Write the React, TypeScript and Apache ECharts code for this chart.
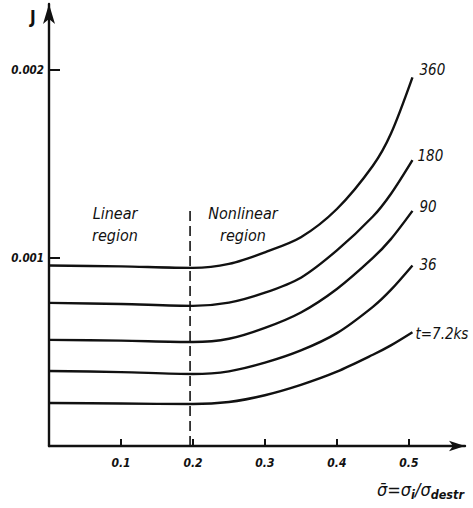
import React, { useEffect, useRef } from "react";
import * as echarts from "echarts";

const FONT = "'DejaVu Sans Condensed', 'DejaVu Sans', sans-serif";

// shared x positions (sigma bar)
const xs = [0, 0.1, 0.2, 0.25, 0.3, 0.35, 0.4, 0.45, 0.475, 0.505];
// J values per curve
const j360 = [0.00096, 0.000955, 0.000947, 0.000968, 0.00103, 0.00111, 0.00126, 0.00149, 0.00166, 0.00196];
const j180 = [0.000761, 0.000755, 0.000745, 0.000762, 0.000815, 0.000895, 0.00104, 0.00122, 0.00134, 0.00152];
const j90 = [0.000564, 0.00056, 0.000553, 0.00057, 0.000628, 0.00071, 0.000835, 0.001, 0.0011, 0.00125];
const j36 = [0.000399, 0.000393, 0.000383, 0.000397, 0.000443, 0.000508, 0.0006, 0.00074, 0.00083, 0.00096];
const j72 = [0.000229, 0.000226, 0.000223, 0.000234, 0.00027, 0.000325, 0.000395, 0.000485, 0.000535, 0.000605];

const curveNames = ["360", "180", "90", "36", "t=7.2ks"];
const curveValues = [j360, j180, j90, j36, j72];
const labelOffsets = [[3, -7], [1, -4], [3, -4], [3, 0], [-1, 2]];

const xTicks = [0.1, 0.2, 0.3, 0.4, 0.5];
const yTicks = [0.001, 0.002];

const boundaryX = [0.196, 0.196];
const boundaryY = [0, 0.00127];

export default function App() {
  const ref = useRef<HTMLDivElement>(null);
  useEffect(() => {
    if (!ref.current) return;
    const chart = echarts.init(ref.current, null, { renderer: "svg" });
    const ink = "#111";
    const series: any[] = curveNames.map((name, i) => ({
      type: "line",
      name,
      data: xs.map((x, k) => [x, curveValues[i][k]]),
      smooth: 0.3,
      symbol: "none",
      lineStyle: { color: ink, width: 2.4 },
      endLabel: {
        show: true,
        formatter: name,
        offset: labelOffsets[i],
        distance: 4,
        fontFamily: FONT,
        fontStyle: "italic",
        fontSize: 15,
        color: ink,
      },
    }));
    series.push({
      type: "line",
      name: "boundary",
      data: boundaryX.map((x, k) => [x, boundaryY[k]]),
      symbol: "none",
      lineStyle: { color: ink, width: 1.6, type: [10, 5] },
    });
    chart.setOption({
      animation: false,
      backgroundColor: "#fff",
      textStyle: { fontFamily: FONT },
      grid: { left: 49, right: 8, top: 4, bottom: 62, containLabel: false },
      xAxis: {
        type: "value",
        min: 0,
        max: 0.578,
        splitLine: { show: false },
        axisLine: {
          lineStyle: { color: ink, width: 2.4 },
          symbol: ["none", "arrow"],
          symbolSize: [8, 16],
        },
        axisTick: {
          show: true,
          inside: true,
          length: 7,
          lineStyle: { color: ink, width: 2 },
          customValues: xTicks,
        },
        axisLabel: {
          customValues: xTicks,
          formatter: (v: number) => String(+v.toFixed(1)),
          fontFamily: FONT,
          fontStyle: "italic",
          fontWeight: "bold",
          fontSize: 12,
          color: ink,
          margin: 11,
        },
      },
      yAxis: {
        type: "value",
        min: 0,
        max: 0.00235,
        splitLine: { show: false },
        axisLine: {
          lineStyle: { color: ink, width: 2.4 },
          symbol: ["none", "arrow"],
          symbolSize: [9, 20],
        },
        axisTick: {
          show: true,
          inside: true,
          length: 11,
          lineStyle: { color: ink, width: 2 },
          customValues: yTicks,
        },
        axisLabel: {
          customValues: yTicks,
          formatter: (v: number) => v.toFixed(3),
          fontFamily: FONT,
          fontStyle: "italic",
          fontWeight: "bold",
          fontSize: 11.5,
          color: ink,
          margin: 5,
        },
      },
      graphic: [
        {
          type: "text",
          left: 30,
          top: 8,
          style: { text: "J", font: `bold 17px ${FONT}`, fill: ink },
        },
        {
          type: "text",
          x: 115,
          y: 224,
          style: {
            text: "Linear\nregion",
            font: `italic 16px ${FONT}`,
            fill: ink,
            align: "center",
            verticalAlign: "middle",
            lineHeight: 22,
          },
        },
        {
          type: "text",
          x: 243,
          y: 224,
          style: {
            text: "Nonlinear\nregion",
            font: `italic 16px ${FONT}`,
            fill: ink,
            align: "center",
            verticalAlign: "middle",
            lineHeight: 22,
          },
        },
        {
          type: "text",
          x: 377,
          y: 478,
          style: {
            text: "σ̄=σ{sub|i}/σ{sub|destr}",
            font: `italic 18px ${FONT}`,
            fill: ink,
            rich: {
              sub: {
                fontSize: 12.5,
                fontStyle: "italic",
                fontWeight: "bold",
                fontFamily: FONT,
                fill: ink,
                padding: [10, 0, 0, 0],
              },
            },
          },
        },
      ],
      series,
    });
    return () => chart.dispose();
  }, []);
  return (
    <div
      ref={ref}
      style={{ position: "fixed", left: 0, top: 0, width: 473, height: 508 }}
    />
  );
}
